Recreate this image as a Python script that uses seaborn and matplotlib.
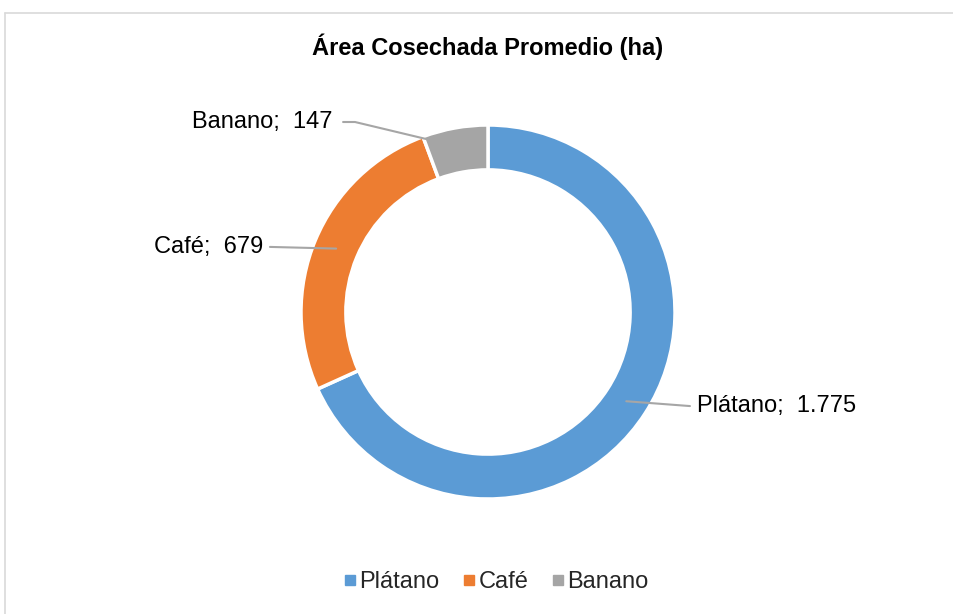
# Gráfico de rosca: área cosechada promedio por cultivo
import numpy as np
import matplotlib
matplotlib.use('Agg')
import matplotlib.pyplot as plt
from matplotlib.lines import Line2D
import seaborn as sns

cultivos = ['Plátano', 'Café', 'Banano']
area_ha = [1775, 679, 147]
etiquetas_valor = ['1.775', '679', '147']
colores = ['#5B9BD5', '#ED7D31', '#A5A5A5']

sns.set_theme(style='white')
plt.rcParams['font.family'] = ['Liberation Sans', 'DejaVu Sans']

W, H = 954, 614
fig = plt.figure(figsize=(W / 100, H / 100), dpi=100)

# centro y radio del anillo en píxeles
cx, cy, r = 488, 312, 187
ax = fig.add_axes([(cx - r) / W, (H - cy - r) / H, 2 * r / W, 2 * r / H])
ancho = 0.24
wedges, _ = ax.pie(area_ha, colors=colores, startangle=90, counterclock=False,
                   radius=1, wedgeprops=dict(width=ancho, edgecolor='white', linewidth=2.5))
ax.set_xlim(-1, 1)
ax.set_ylim(-1, 1)
ax.set_aspect('equal')
ax.axis('off')

# etiquetas con líneas guía (posición del texto en coordenadas del eje)
r_mid = 1 - ancho / 2
layout = {
    'Plátano': dict(ancla=None, codo=None, fin=(1.08, -0.503), texto=(1.118, -0.503), ha='left'),
    'Café': dict(ancla=None, codo=None, fin=(-1.166, 0.348), texto=(-1.203, 0.348), ha='right'),
    'Banano': dict(ancla=(109.0, 0.975), codo=(-0.711, 1.016), fin=(-0.775, 1.016), texto=(-0.83, 1.016), ha='right'),
}
for w, nombre, val in zip(wedges, cultivos, etiquetas_valor):
    cfg = layout[nombre]
    if cfg['ancla'] is None:
        ang = np.deg2rad((w.theta1 + w.theta2) / 2)
        x0, y0 = r_mid * np.cos(ang), r_mid * np.sin(ang)
    else:
        ang = np.deg2rad(cfg['ancla'][0])
        x0, y0 = cfg['ancla'][1] * np.cos(ang), cfg['ancla'][1] * np.sin(ang)
    xs, ys = [x0], [y0]
    if cfg['codo'] is not None:
        xs.append(cfg['codo'][0]); ys.append(cfg['codo'][1])
    xs.append(cfg['fin'][0]); ys.append(cfg['fin'][1])
    ax.plot(xs, ys, color='#A6A6A6', lw=1.5, clip_on=False, zorder=5)
    ax.text(cfg['texto'][0], cfg['texto'][1], f'{nombre};  {val}', ha=cfg['ha'], va='center',
            fontsize=17, color='black', clip_on=False)

fig.text(cx / W, 1 - 47 / H, 'Área Cosechada Promedio (ha)', ha='center', va='center',
         fontsize=17, fontweight='bold', color='black')

handles = [Line2D([], [], marker='s', ls='', color=c, markersize=6.5) for c in colores]
fig.legend(handles, cultivos, loc='center', bbox_to_anchor=(495 / W, 1 - 582 / H), ncol=3,
           frameon=False, fontsize=17, handletextpad=0.05, columnspacing=0.9, handlelength=0.7)

# borde del área del gráfico
borde = '#D9D9D9'
fig.add_artist(Line2D([5.5 / W, 1], [1 - 12.5 / H, 1 - 12.5 / H], color=borde, lw=1.2, transform=fig.transFigure))
fig.add_artist(Line2D([5.5 / W, 5.5 / W], [0, 1 - 12.5 / H], color=borde, lw=1.2, transform=fig.transFigure))

fig.savefig('out.png', dpi=100, facecolor='white')
plt.close(fig)
